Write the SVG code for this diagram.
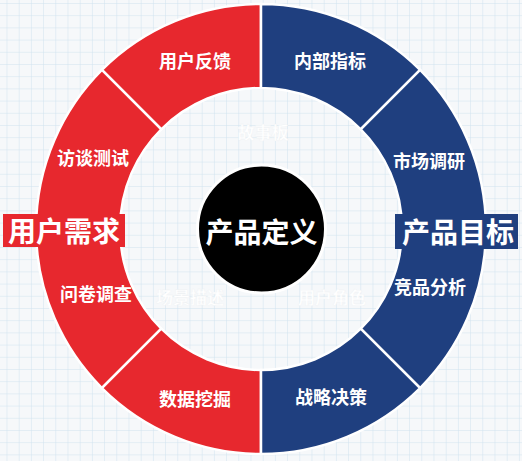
<svg xmlns="http://www.w3.org/2000/svg" width="522" height="461" viewBox="0 0 522 461">
<defs>
<pattern id="grid" x="6.5" y="3" width="12.2" height="12.2" patternUnits="userSpaceOnUse">
<rect width="12.2" height="12.2" fill="#f6f8fa"/>
<path d="M0 0H12.2M0 0V12.2" stroke="#cfe3ef" stroke-width="1" fill="none"/>
</pattern>
<style>
.red{fill:#e7282e;stroke:#ffffff;stroke-width:2.5}
.blue{fill:#1f3f7f;stroke:#ffffff;stroke-width:2.5}
.lbl{font-family:"Noto Sans CJK SC","Noto Sans",sans-serif;font-size:18px;font-weight:bold;fill:#ffffff;text-anchor:middle}
.faint{font-family:"Noto Sans CJK SC","Noto Sans",sans-serif;font-size:17px;font-weight:bold;fill:#ffffff;stroke:#eef1f3;stroke-width:0.3;text-anchor:middle}
.big{font-family:"Noto Sans CJK SC","Noto Sans",sans-serif;font-size:28px;font-weight:bold;fill:#ffffff;text-anchor:middle}
</style>
</defs>
<rect width="522" height="461" fill="url(#grid)"/>
<g id="ring">
<g id="seg-feedback"><path class="red" d="M261 4A225 225 0 0 0 101.9 69.9L161.3 129.3A141 141 0 0 1 261 88Z"/><text class="lbl" x="195" y="68">用户反馈</text></g>
<g id="seg-interview"><path class="red" d="M101.9 69.9A225 225 0 0 0 101.9 388.1L161.3 328.7A141 141 0 0 1 161.3 129.3Z"/><text class="lbl" x="93" y="165">访谈测试</text><text class="lbl" x="96" y="301">问卷调查</text></g>
<g id="seg-datamining"><path class="red" d="M101.9 388.1A225 225 0 0 0 261 454L261 370A141 141 0 0 1 161.3 328.7Z"/><text class="lbl" x="195" y="406">数据挖掘</text></g>
<g id="seg-metrics"><path class="blue" d="M261 4A225 225 0 0 1 420.1 69.9L360.7 129.3A141 141 0 0 0 261 88Z"/><text class="lbl" x="330" y="68">内部指标</text></g>
<g id="seg-market"><path class="blue" d="M420.1 69.9A225 225 0 0 1 420.1 388.1L360.7 328.7A141 141 0 0 0 360.7 129.3Z"/><text class="lbl" x="429" y="168">市场调研</text><text class="lbl" x="430" y="294">竞品分析</text></g>
<g id="seg-strategy"><path class="blue" d="M420.1 388.1A225 225 0 0 1 261 454L261 370A141 141 0 0 0 360.7 328.7Z"/><text class="lbl" x="331" y="404">战略决策</text></g>
</g>
<g id="inner-labels">
<text class="faint" x="263" y="139">故事板</text>
<text class="faint" x="190" y="304">场景描述</text>
<text class="faint" x="332" y="304">用户角色</text>
</g>
<g id="center"><circle cx="261.5" cy="229" r="64" fill="#000000" stroke="#ffffff" stroke-width="3"/><text class="big" x="261.5" y="243">产品定义</text></g>
<g id="user-needs"><rect x="3" y="214" width="122" height="33" fill="#e7282e"/><text class="big" x="64" y="242" font-size="29">用户需求</text></g>
<g id="product-goal"><rect x="395" y="214" width="123" height="35" fill="#1f3f7f"/><text class="big" x="458" y="243">产品目标</text></g>
<g id="connectors"/>
</svg>
